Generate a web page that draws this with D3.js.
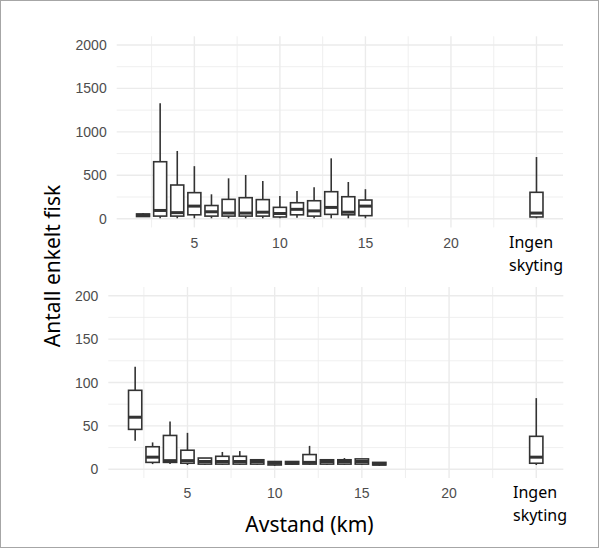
<!DOCTYPE html>
<html><head><meta charset="utf-8">
<script src="https://cdn.jsdelivr.net/npm/d3@7"></script>
<style>html,body{margin:0;padding:0;background:#fff;}svg{display:block;}</style>
</head><body>
<svg id="chart" width="599" height="548"></svg>
<script>
// Distances (km); 25 = "Ingen skyting"
const topX    = [2, 3, 4, 5, 6, 7, 8, 9, 10, 11, 12, 13, 14, 15, 25];
const topMin  = [20, 5, 5, 5, 5, 5, 5, 5, 5, 10, 5, 5, 5, 5, 5];
const topQ1   = [25, 30, 30, 45, 30, 30, 30, 30, 20, 45, 30, 50, 45, 35, 20];
const topMed  = [40, 95, 70, 145, 80, 65, 65, 75, 60, 108, 90, 130, 75, 145, 65];
const topQ3   = [55, 656, 388, 300, 152, 223, 242, 220, 131, 184, 207, 311, 253, 215, 304];
const topMax  = [65, 1330, 780, 605, 281, 465, 503, 434, 261, 319, 362, 695, 423, 340, 710];

const botX    = [2, 3, 4, 5, 6, 7, 8, 9, 10, 11, 12, 13, 14, 15, 16, 25];
const botMin  = [33, 6, 6, 5, 5, 5, 5, 5, 4, 5, 5, 5, 5, 5, 4, 5];
const botQ1   = [46, 8, 8, 7, 6, 6, 6, 6, 5, 6, 6, 6, 6, 6, 5, 7];
const botMed  = [60, 14, 10, 10, 9, 9, 9, 9, 7, 7, 8, 9, 9, 9, 6, 14];
const botQ3   = [91, 26, 39, 22, 13, 15, 15, 11, 9, 9, 17, 11, 11, 12, 8, 38];
const botMax  = [118, 31, 55, 42, 13, 20, 21, 11, 9, 9, 27, 11, 13, 12, 8, 82];

const xTickVals   = [5, 10, 15, 20];
const xMajor      = [5, 10, 15, 20, 25];
const xMinor      = [2.5, 7.5, 12.5, 17.5, 22.5];
const topYTicks   = [0, 500, 1000, 1500, 2000];
const topYMinor   = [250, 750, 1250, 1750];
const botYTicks   = [0, 50, 100, 150, 200];
const botYMinor   = [25, 75, 125, 175];
const ingenLines  = ["Ingen", "skyting"];
const yTitle = "Antall enkelt fisk";
const xTitle = "Avstand (km)";

const svg = d3.select("#chart");
svg.append("rect").attr("x",0.5).attr("y",0.5).attr("width",598).attr("height",547)
   .attr("fill","#fff").attr("stroke","#a6a6a6").attr("stroke-width",1);

const xDomain = [0.46, 26.55];
const grid = "#ebebeb";
const boxCol = "#333333";
const tickFont = "'Liberation Sans', Arial, sans-serif";
const overFont = "'Noto Sans', 'Open Sans', sans-serif";

function panel(cfg) {
  const x = d3.scaleLinear().domain(xDomain).range(cfg.xr);
  const y = d3.scaleLinear().domain(cfg.yd).range(cfg.yr);
  const g = svg.append("g");
  // minor grid
  g.selectAll(".hmin").data(cfg.yMinor).join("line")
    .attr("x1", cfg.xr[0]).attr("x2", cfg.xr[1])
    .attr("y1", d => y(d)).attr("y2", d => y(d))
    .attr("stroke", grid).attr("stroke-width", 0.8);
  g.selectAll(".vmin").data(xMinor).join("line")
    .attr("y1", cfg.yr[0]).attr("y2", cfg.yr[1])
    .attr("x1", d => x(d)).attr("x2", d => x(d))
    .attr("stroke", grid).attr("stroke-width", 0.8);
  // major grid
  g.selectAll(".hmaj").data(cfg.yTicks).join("line")
    .attr("x1", cfg.xr[0]).attr("x2", cfg.xr[1])
    .attr("y1", d => y(d)).attr("y2", d => y(d))
    .attr("stroke", grid).attr("stroke-width", 1.4);
  g.selectAll(".vmaj").data(xMajor).join("line")
    .attr("y1", cfg.yr[0]).attr("y2", cfg.yr[1])
    .attr("x1", d => x(d)).attr("x2", d => x(d))
    .attr("stroke", grid).attr("stroke-width", 1.4);
  // y tick labels
  g.selectAll(".ytl").data(cfg.yTicks).join("text")
    .attr("x", cfg.xr[0] - 10).attr("y", d => y(d)).attr("dy", "0.36em")
    .attr("text-anchor", "end").attr("font-family", tickFont).attr("font-size", 14)
    .attr("fill", "#4d4d4d").text(d => d);
  // x tick labels
  g.selectAll(".xtl").data(xTickVals).join("text")
    .attr("x", d => x(d)).attr("y", cfg.xLabY)
    .attr("text-anchor", "middle").attr("font-family", tickFont).attr("font-size", 14)
    .attr("fill", "#4d4d4d").text(d => d);
  // boxes
  const data = cfg.xs.map((v, i) => ({x: v, min: cfg.min[i], q1: cfg.q1[i], med: cfg.med[i], q3: cfg.q3[i], max: cfg.max[i]}));
  const bw = 0.76;
  const bg = g.selectAll(".box").data(data).join("g");
  bg.append("line").attr("x1", d => x(d.x)).attr("x2", d => x(d.x))
    .attr("y1", d => y(d.q3)).attr("y2", d => y(d.max))
    .attr("stroke", boxCol).attr("stroke-width", 1.6);
  bg.append("line").attr("x1", d => x(d.x)).attr("x2", d => x(d.x))
    .attr("y1", d => y(d.q1)).attr("y2", d => y(d.min))
    .attr("stroke", boxCol).attr("stroke-width", 1.6);
  bg.append("rect")
    .attr("x", d => x(d.x - bw/2)).attr("width", d => x(d.x + bw/2) - x(d.x - bw/2))
    .attr("y", d => y(d.q3)).attr("height", d => Math.max(0.5, y(d.q1) - y(d.q3)))
    .attr("fill", "#fff").attr("stroke", boxCol).attr("stroke-width", 1.6);
  bg.append("line")
    .attr("x1", d => x(d.x - bw/2)).attr("x2", d => x(d.x + bw/2))
    .attr("y1", d => y(d.med)).attr("y2", d => y(d.med))
    .attr("stroke", boxCol).attr("stroke-width", 3);
  // Ingen skyting
  g.selectAll(".ing").data(ingenLines).join("text")
    .attr("x", cfg.ingX).attr("y", (d, i) => cfg.ingY + i * 23)
    .attr("font-family", overFont).attr("font-size", 16).attr("fill", "#000")
    .text(d => d);
}

panel({xr: [116.7, 563], yd: [-100, 2100], yr: [227.4, 36.3],
  yTicks: topYTicks, yMinor: topYMinor, xLabY: 248,
  xs: topX, min: topMin, q1: topQ1, med: topMed, q3: topQ3, max: topMax,
  ingX: 509, ingY: 248});
panel({xr: [108.3, 563.3], yd: [-10, 210], yr: [478, 287],
  yTicks: botYTicks, yMinor: botYMinor, xLabY: 498,
  xs: botX, min: botMin, q1: botQ1, med: botMed, q3: botQ3, max: botMax,
  ingX: 513, ingY: 498});

svg.append("text").attr("x", 309.5).attr("y", 532)
  .attr("text-anchor", "middle").attr("font-family", overFont).attr("font-size", 21)
  .attr("fill", "#000").text(xTitle);
svg.append("text").attr("transform", "translate(60,266) rotate(-90)")
  .attr("text-anchor", "middle").attr("font-family", overFont).attr("font-size", 21)
  .attr("fill", "#000").text(yTitle);
</script>
</body></html>
